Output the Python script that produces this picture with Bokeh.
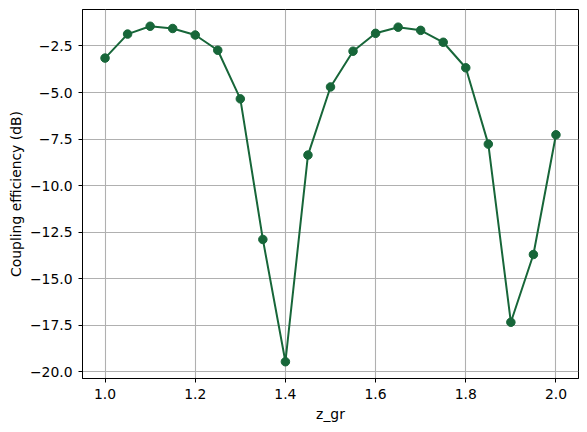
from bokeh.plotting import figure
from bokeh.models import FixedTicker, Range1d
from bokeh.embed import file_html
from bokeh.resources import INLINE

z_gr = [1.00, 1.05, 1.10, 1.15, 1.20, 1.25, 1.30, 1.35, 1.40, 1.45, 1.50,
        1.55, 1.60, 1.65, 1.70, 1.75, 1.80, 1.85, 1.90, 1.95, 2.00]
coupling_db = [-3.15, -1.86, -1.44, -1.56, -1.91, -2.73, -5.34, -12.89, -19.46, -8.36, -4.70,
               -2.78, -1.82, -1.49, -1.66, -2.30, -3.67, -7.77, -17.34, -13.70, -7.27]
x_ticks = [1.0, 1.2, 1.4, 1.6, 1.8, 2.0]
y_ticks = [-2.5, -5.0, -7.5, -10.0, -12.5, -15.0, -17.5, -20.0]

FONT = "DejaVu Sans"
COLOR = "#176639"

p = figure(width=579, height=424, output_backend="svg", toolbar_location=None,
           x_range=Range1d(0.95, 2.05), y_range=Range1d(-20.36, -0.54),
           min_border_left=82, min_border_right=1, min_border_top=9, min_border_bottom=45)

p.line(z_gr, coupling_db, line_color=COLOR, line_width=2)
p.scatter(z_gr, coupling_db, size=8.5, fill_color=COLOR, line_color=COLOR)

p.xaxis.ticker = FixedTicker(ticks=x_ticks)
p.yaxis.ticker = FixedTicker(ticks=y_ticks)
p.xaxis.major_label_overrides = {t: f"{t:.1f}" for t in x_ticks}
p.yaxis.major_label_overrides = {t: f"{t:.1f}".replace("-", "\u2212") for t in y_ticks}

for ax in (p.xaxis, p.yaxis):
    ax.major_label_text_font = FONT
    ax.major_label_text_font_size = "13.9px"
    ax.major_label_text_color = "black"
    ax.axis_label_text_font = FONT
    ax.axis_label_text_font_size = "13.9px"
    ax.axis_label_text_font_style = "normal"
    ax.axis_label_text_color = "black"
    ax.axis_line_color = "black"
    ax.major_tick_line_color = "black"
    ax.major_tick_out = 4
    ax.major_tick_in = 0
    ax.minor_tick_line_color = None

p.xaxis.axis_label = "z_gr"
p.yaxis.axis_label = "Coupling efficiency (dB)"
p.xaxis.major_label_standoff = 6
p.yaxis.major_label_standoff = 6
p.xaxis.axis_label_standoff = 4
p.yaxis.axis_label_standoff = 3

p.grid.grid_line_color = "#b0b0b0"
p.grid.grid_line_width = 1.1
p.outline_line_color = "black"
p.outline_line_width = 1
p.background_fill_color = "white"
p.border_fill_color = "white"

open("out.html", "w").write(file_html(p, INLINE))
